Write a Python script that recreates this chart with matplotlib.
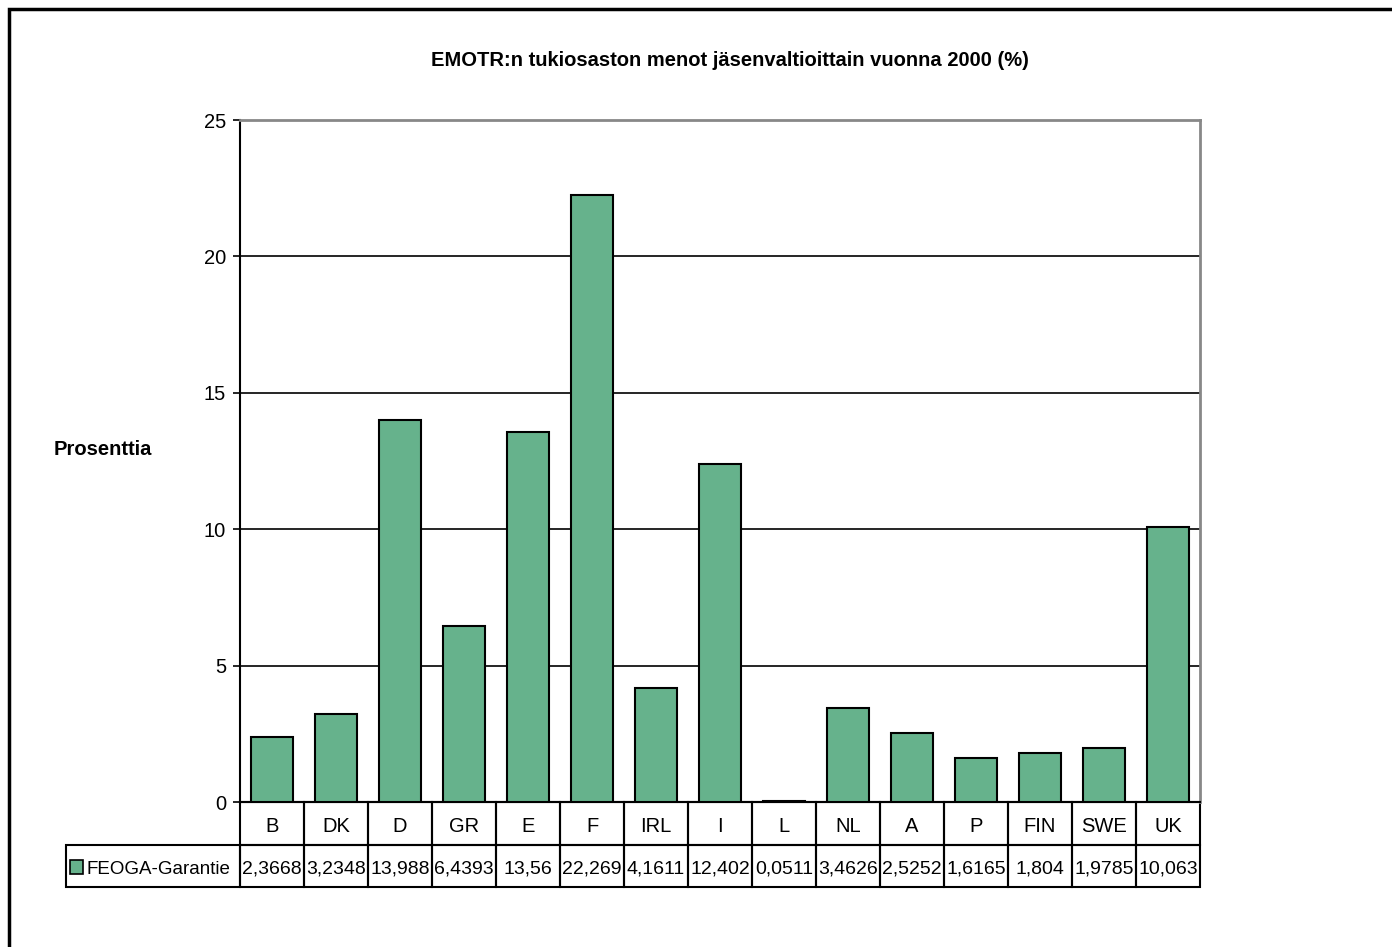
import numpy as np
import matplotlib
matplotlib.use('Agg')
from matplotlib import pyplot as plt
from matplotlib.patches import Rectangle
import matplotlib.transforms as mtrans

plt.rcParams['font.family'] = ['Liberation Sans', 'DejaVu Sans']

maat = ['B', 'DK', 'D', 'GR', 'E', 'F', 'IRL', 'I', 'L', 'NL', 'A', 'P', 'FIN', 'SWE', 'UK']
arvot = [2.3668, 3.2348, 13.988, 6.4393, 13.56, 22.269, 4.1611, 12.402, 0.0511,
         3.4626, 2.5252, 1.6165, 1.804, 1.9785, 10.063]
arvo_tekstit = ['2,3668', '3,2348', '13,988', '6,4393', '13,56', '22,269', '4,1611', '12,402',
                '0,0511', '3,4626', '2,5252', '1,6165', '1,804', '1,9785', '10,063']
sarja = 'FEOGA-Garantie'
otsikko = 'EMOTR:n tukiosaston menot jäsenvaltioittain vuonna 2000 (%)'
y_otsikko = 'Prosenttia'
vari = '#66b28c'

W, H = 1392, 947
fig = plt.figure(figsize=(W / 100, H / 100), dpi=100)
ax = fig.add_axes([240 / W, 1 - 802 / H, 960 / W, 682 / H])

x = np.arange(len(maat))
ax.bar(x, arvot, width=0.66, color=vari, edgecolor='black', linewidth=1.5, zorder=3)
ax.set_xlim(-0.5, len(maat) - 0.5)
ax.set_ylim(0, 25)
ax.set_yticks(np.arange(0, 26, 5))
ax.tick_params(axis='y', direction='out', length=5, width=1.2, labelsize=14.5, pad=5)
ax.set_xticks([])
ax.yaxis.grid(True, color='black', linewidth=1.2, zorder=0)
ax.set_axisbelow(True)
ax.spines['left'].set_linewidth(1.5)
ax.spines['bottom'].set_linewidth(1.5)
for s in ['top', 'right']:
    ax.spines[s].set_color('#888888')
    ax.spines[s].set_linewidth(2)

# taulukko kuvaajan alle
tr = mtrans.blended_transform_factory(ax.transData, ax.transAxes)
r1 = -43 / 682
r2 = -85 / 682
lw = 1.5
dy = -3 / 682
for i, (m, t) in enumerate(zip(maat, arvo_tekstit)):
    ax.add_patch(Rectangle((i - 0.5, r1), 1, -r1, transform=tr, fill=False,
                           edgecolor='black', linewidth=lw, clip_on=False))
    ax.add_patch(Rectangle((i - 0.5, r2), 1, r1 - r2, transform=tr, fill=False,
                           edgecolor='black', linewidth=lw, clip_on=False))
    ax.text(i, r1 / 2 + dy, m, transform=tr, ha='center', va='center', fontsize=14.5)
    ax.text(i, (r1 + r2) / 2 + dy, t, transform=tr, ha='center', va='center', fontsize=14)

x_leg = -0.5 - 174 / 64
ax.add_patch(Rectangle((x_leg, r2), -0.5 - x_leg, r1 - r2, transform=tr, fill=False,
                       edgecolor='black', linewidth=lw, clip_on=False))
ax.add_patch(Rectangle((x_leg + 4 / 64, (r1 + r2) / 2 - 8 / 682), 13 / 64, 14 / 682,
                       transform=tr, facecolor=vari, edgecolor='black', linewidth=1.2,
                       clip_on=False))
ax.text(x_leg + 21 / 64, (r1 + r2) / 2 + dy, sarja, transform=tr, ha='left', va='center',
        fontsize=13.5)

fig.text(730 / W, 1 - 61 / H, otsikko, ha='center', va='center', fontsize=14.5,
         fontweight='bold')
fig.text(103 / W, 1 - 449 / H, y_otsikko, ha='center', va='center', fontsize=14.5,
         fontweight='bold')

fig.patches.append(Rectangle((9 / W, -0.1), 1.2, 1.1 - 9 / H, transform=fig.transFigure,
                             fill=False, edgecolor='black', linewidth=2.5, clip_on=False))

fig.savefig('out.png', dpi=100)
